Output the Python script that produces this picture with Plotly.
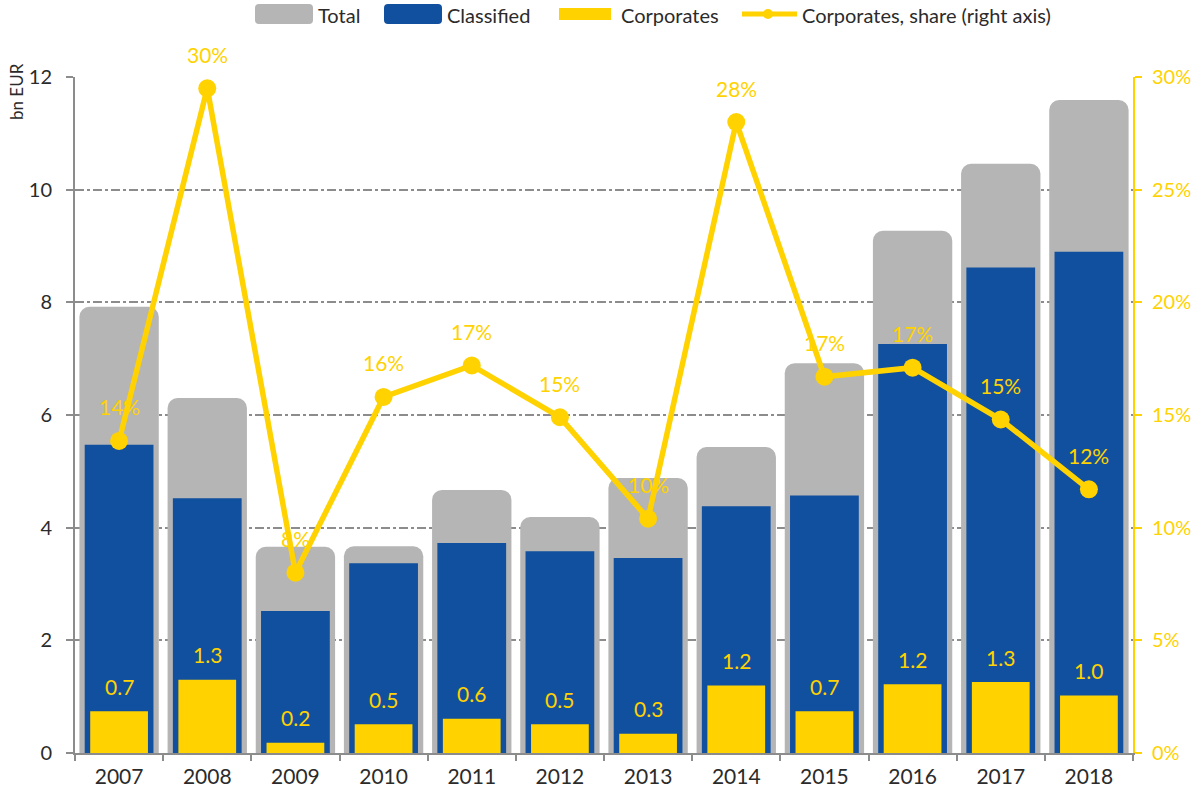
import plotly.graph_objects as go

years = ["2007", "2008", "2009", "2010", "2011", "2012", "2013", "2014", "2015", "2016", "2017", "2018"]
total = [7.92, 6.30, 3.66, 3.67, 4.67, 4.19, 4.88, 5.43, 6.92, 9.27, 10.46, 11.59]
classified = [5.47, 4.52, 2.52, 3.37, 3.73, 3.58, 3.46, 4.38, 4.57, 7.26, 8.62, 8.90]
corporates = [0.74, 1.30, 0.18, 0.51, 0.61, 0.51, 0.34, 1.20, 0.74, 1.22, 1.26, 1.02]
share = [0.1385, 0.295, 0.080, 0.158, 0.172, 0.149, 0.104, 0.280, 0.167, 0.171, 0.148, 0.117]
legend_names = ["Total", "Classified", "Corporates", "Corporates, share (right axis)"]

GREY = "#B5B5B5"
BLUE = "#11509F"
YELLOW = "#FFD200"
FONT = "Lato, Open Sans, sans-serif"
TXT = "#2B2B2B"
AXIS = "#8C8C8C"

FW, FH = 1197, 791
# plot area in page pixels
L, R, T, B = 75, 1133, 77, 753
W, H = R - L, B - T


def px(x):
    return (x - L) / W


def py(y):
    return (B - y) / H


def rrect(x0, y0, x1, y1, r):
    rx, ry = r / W, r / H
    X0, X1, Y0, Y1 = px(x0), px(x1), py(y1), py(y0)
    return (f"M{X0+rx},{Y0} L{X1-rx},{Y0} Q{X1},{Y0} {X1},{Y0+ry} L{X1},{Y1-ry} Q{X1},{Y1} {X1-rx},{Y1} "
            f"L{X0+rx},{Y1} Q{X0},{Y1} {X0},{Y1-ry} L{X0},{Y0+ry} Q{X0},{Y0} {X0+rx},{Y0} Z")


fig = go.Figure()
fig.add_trace(go.Bar(x=years, y=total, name=legend_names[0], width=0.9, showlegend=False,
                     marker=dict(color=GREY, cornerradius=10, line=dict(width=0))))
fig.add_trace(go.Bar(x=years, y=classified, name=legend_names[1], width=0.78, showlegend=False,
                     marker=dict(color=BLUE, cornerradius=6, line=dict(width=0))))
fig.add_trace(go.Bar(x=years, y=corporates, name=legend_names[2], width=0.655, showlegend=False,
                     marker=dict(color=YELLOW, line=dict(width=0))))
fig.add_trace(go.Scatter(x=years, y=share, name=legend_names[3], yaxis="y2", showlegend=False,
                         mode="lines+markers", line=dict(color=YELLOW, width=5.5),
                         marker=dict(color=YELLOW, size=18), cliponaxis=False))

annotations = []
for i, v in enumerate(corporates):
    annotations.append(dict(x=i, y=v, xref="x", yref="y", text=f"{v:.1f}", showarrow=False,
                            yshift=25, font=dict(color=YELLOW, size=21, family=FONT)))
for i, s in enumerate(share):
    annotations.append(dict(x=i, y=s, xref="x", yref="y2", text=f"{round(s*100):d}%", showarrow=False,
                            yshift=34, font=dict(color=YELLOW, size=21, family=FONT)))
annotations.append(dict(x=px(17), y=py(92), xref="paper", yref="paper", text="bn EUR", textangle=-90,
                        showarrow=False, xanchor="center", yanchor="middle",
                        font=dict(color=TXT, size=17, family=FONT)))

# custom legend
shapes = []
shapes.append(dict(type="path", path=rrect(255, 4, 313, 24, 4), xref="paper", yref="paper",
                   fillcolor=GREY, line=dict(width=0)))
shapes.append(dict(type="path", path=rrect(384, 4, 442, 24, 4), xref="paper", yref="paper",
                   fillcolor=BLUE, line=dict(width=0)))
shapes.append(dict(type="rect", x0=px(559), x1=px(611), y0=py(20), y1=py(8), xref="paper", yref="paper",
                   fillcolor=YELLOW, line=dict(width=0)))
shapes.append(dict(type="line", x0=px(742), x1=px(797), y0=py(14), y1=py(14), xref="paper", yref="paper",
                   line=dict(color=YELLOW, width=5)))
shapes.append(dict(type="circle", x0=px(763), x1=px(773), y0=py(19), y1=py(9), xref="paper", yref="paper",
                   fillcolor=YELLOW, line=dict(width=0)))
for name, xl in zip(legend_names, [317, 446, 620, 801]):
    annotations.append(dict(x=px(xl), y=py(15), xref="paper", yref="paper", text=name, showarrow=False,
                            xanchor="left", yanchor="middle", borderpad=0,
                            font=dict(color=TXT, size=20, family=FONT)))

fig.update_layout(
    width=FW, height=FH,
    margin=dict(l=L, r=FW - R, t=T, b=FH - B, pad=0, autoexpand=False),
    barmode="overlay",
    plot_bgcolor="white", paper_bgcolor="white",
    font=dict(family=FONT, color=TXT, size=18),
    showlegend=False,
    xaxis=dict(type="category", range=[-0.5, 11.5], showline=True, linecolor=AXIS, linewidth=2,
               ticks="outside", tickson="boundaries", ticklen=6, tickcolor=AXIS, tickwidth=2,
               ticklabelstandoff=4, automargin=False,
               showgrid=False, tickangle=0, tickfont=dict(size=21, color=TXT)),
    yaxis=dict(range=[0, 12], dtick=2, showline=True, linecolor=AXIS, linewidth=2, automargin=False,
               ticks="outside", ticklen=7, tickcolor=AXIS, tickwidth=2, ticklabelstandoff=10,
               showgrid=True, gridcolor=AXIS, gridwidth=1.5, griddash="dashdot",
               zeroline=False, tickfont=dict(size=20, color=TXT)),
    yaxis2=dict(range=[0, 0.3], dtick=0.05, tickformat=".0%", overlaying="y", side="right",
                showline=True, linecolor=YELLOW, linewidth=2, ticks="outside", ticklen=7, automargin=False,
                tickcolor=YELLOW, tickwidth=2, showgrid=False, zeroline=False, ticklabelstandoff=6,
                tickfont=dict(size=20, color=YELLOW)),
    annotations=annotations,
    shapes=shapes,
)

fig.write_html("out.html", config={"displayModeBar": False},
               post_script="document.body.style.margin='0';document.body.style.overflow='hidden';")
